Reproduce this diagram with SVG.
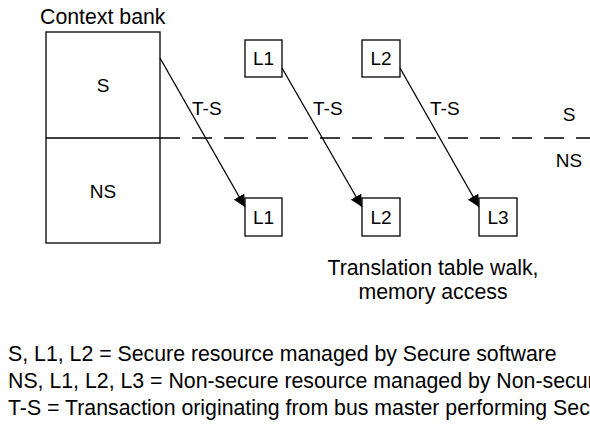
<svg xmlns="http://www.w3.org/2000/svg" width="590" height="435" viewBox="0 0 590 435">
  <style>
    text { font-family: "Liberation Sans", Arial, sans-serif; font-size: 19px; fill: #000; }
    .big { font-size: 21.3px; }
    .mid { text-anchor: middle; }
    .box { fill: #fff; stroke: #000; stroke-width: 1.3; }
    .link { stroke: #000; stroke-width: 1.3; fill: none; marker-end: url(#arrow); }
    .divider { stroke: #000; stroke-width: 1.3; stroke-dasharray: 20 12; }
  </style>
  <defs>
    <marker id="arrow" viewBox="0 0 10 10" refX="10" refY="5" markerWidth="12" markerHeight="12" markerUnits="userSpaceOnUse" orient="auto">
      <path d="M0,0 L10,5 L0,10 z" fill="#000"/>
    </marker>
  </defs>

  <rect width="590" height="435" fill="#fff"/>

  <!-- Secure / Non-secure boundary -->
  <line class="divider" x1="160" y1="138" x2="590" y2="138"/>
  <text class="mid" x="569" y="121">S</text>
  <text class="mid" x="569" y="167">NS</text>

  <!-- Context bank -->
  <g id="context-bank">
    <text class="big" x="40" y="24">Context bank</text>
    <rect class="box" x="46" y="32" width="114" height="211"/>
    <line x1="46" y1="138" x2="160" y2="138" stroke="#000" stroke-width="1.3"/>
    <text class="mid" x="103" y="92">S</text>
    <text class="mid" x="103" y="198">NS</text>
  </g>

  <!-- Secure levels -->
  <g id="s-l1">
    <rect class="box" x="245" y="40" width="37" height="37"/>
    <text class="mid" x="263.5" y="65">L1</text>
  </g>
  <g id="s-l2">
    <rect class="box" x="362" y="40" width="38" height="37"/>
    <text class="mid" x="381" y="65">L2</text>
  </g>

  <!-- Non-secure levels -->
  <g id="ns-l1">
    <rect class="box" x="245" y="198" width="37" height="38"/>
    <text class="mid" x="263.5" y="224">L1</text>
  </g>
  <g id="ns-l2">
    <rect class="box" x="362" y="198" width="38" height="38"/>
    <text class="mid" x="381" y="224">L2</text>
  </g>
  <g id="ns-l3">
    <rect class="box" x="479" y="198" width="38" height="38"/>
    <text class="mid" x="498" y="224">L3</text>
  </g>

  <!-- Transactions -->
  <g id="connectors">
    <line class="link" x1="160" y1="58" x2="245" y2="207"/>
    <line class="link" x1="282" y1="68" x2="362" y2="207"/>
    <line class="link" x1="400" y1="68" x2="479" y2="207"/>
    <text x="192" y="115">T-S</text>
    <text x="313" y="115">T-S</text>
    <text x="430" y="115">T-S</text>
  </g>

  <text class="big mid" x="433" y="275">Translation table walk,</text>
  <text class="big mid" x="433" y="299">memory access</text>

  <!-- Legend (runs past the right edge) -->
  <g id="legend">
    <text class="big" x="8" y="361">S, L1, L2 = Secure resource managed by Secure software</text>
    <text class="big" x="8" y="388">NS, L1, L2, L3 = Non-secure resource managed by Non-secure software</text>
    <text class="big" x="8" y="415">T-S = Transaction originating from bus master performing Secure access</text>
  </g>
</svg>
